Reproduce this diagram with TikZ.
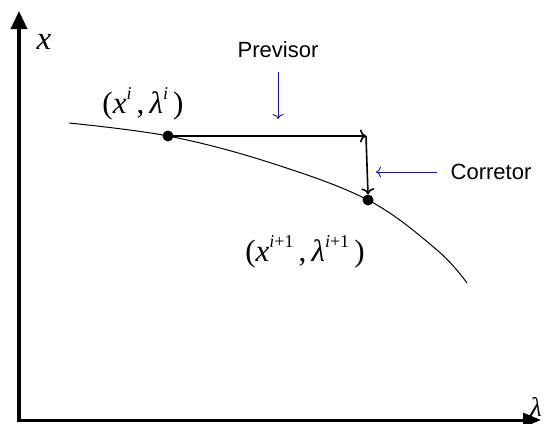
\documentclass[tikz,border=0pt]{standalone}
\usepackage{fontspec}
\setmainfont{Liberation Serif}
\newfontfamily\labelsans{Liberation Sans}
\usetikzlibrary{arrows.meta}
\definecolor{annblue}{RGB}{20,20,160}
\newcommand{\supi}[1]{\raisebox{0.45em}{\fontsize{18}{18}\selectfont #1}}
\tikzset{
  axisline/.style={line width=3.5pt,-{Triangle[length=18pt,width=16pt]}},
  steparrow/.style={line width=1.6pt,-{To[length=6pt,width=13pt,line width=1.6pt]}},
  notearrow/.style={annblue,line width=0.9pt,-{To[length=5pt,width=11pt]}},
  dot/.style={circle,fill=black,inner sep=0pt,minimum size=11pt},
  mathlabel/.style={font=\fontsize{31}{33}\selectfont},
  textlabel/.style={font=\labelsans\fontsize{22}{24}\selectfont}
}
\begin{document}
\begin{tikzpicture}[x=1pt,y=-1pt]
\useasboundingbox (0,0) rectangle (545,423);
% axes
\coordinate (ytop) at (19,11);
\coordinate (xend) at (541,420);
\draw[axisline] (19,421.5) -- (ytop);
\draw[line width=3pt,-{Triangle[length=18pt,width=14pt]}] (17.5,420) -- (xend);
\node[font=\fontsize{33}{33}\selectfont\itshape] (xlab) at (44,42) {x};
\node[font=\fontsize{27}{27}\selectfont\itshape,anchor=east,inner sep=1pt] (llab) at (543,407) {λ};
% curve
\draw[line width=1pt] plot[smooth,tension=0.6] coordinates {(69,123) (168,136) (268,162) (368,200) (437,250) (467,283)};
\node[dot] (p1) at (168,136) {};
\node[dot] (p2) at (368,200) {};
\coordinate (c) at (366,136);
\draw[steparrow] (p1.center) -- (c);
\draw[line width=1.6pt] (c) -- (366,137);
\draw[steparrow] (366,136) -- (p2.north);
% labels
\node[mathlabel] (l1) at (143,104) {(\textit{x}\supi{\textit{i}}\,,\,\textit{λ}\supi{\textit{i}}\,)};
\node[mathlabel] (l2) at (305,252) {(\textit{x}\supi{\textit{i}+1}\,,\,\textit{λ}\supi{\textit{i}+1}\,)};
\node[textlabel] (prev) at (278,50) {Previsor};
\node[textlabel] (corr) at (491,172) {Corretor};
\coordinate (pa) at (278,72);
\coordinate (pb) at (278,119);
\draw[notearrow] (pa) -- (pb);
\coordinate (ca) at (437,172);
\coordinate (cb) at (376,172);
\draw[notearrow] (ca) -- (cb);
\end{tikzpicture}
\end{document}
